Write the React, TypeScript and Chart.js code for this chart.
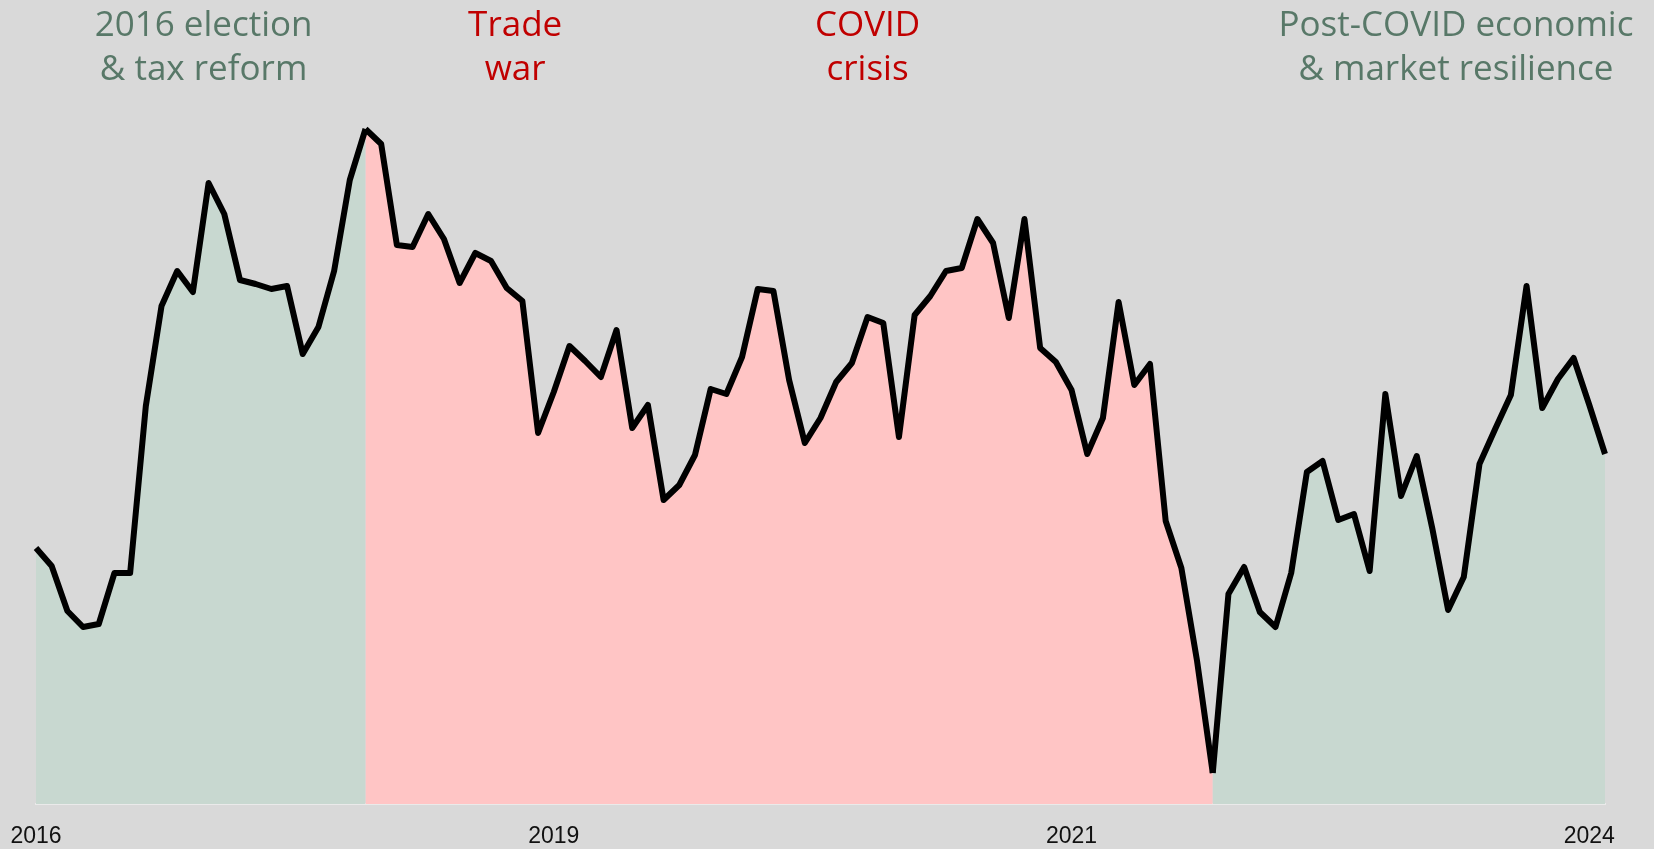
import React, { useEffect, useRef } from 'react';
import { Chart, registerables } from 'chart.js';

Chart.register(...registerables);

// Series values (index level, one per period)
const values: number[] = [
  256, 238, 193, 177, 180, 231, 231, 398, 498, 533,
  512, 621, 590, 524, 520, 515, 518, 450, 477, 533,
  624, 675, 660, 559, 557, 590, 565, 521, 551, 543,
  516, 503, 371, 412, 458, 443, 427, 474, 376, 399,
  304, 319, 349, 415, 410, 447, 515, 513, 424, 361,
  386, 422, 441, 487, 481, 367, 489, 508, 533, 536,
  585, 561, 486, 585, 456, 442, 414, 350, 386, 502,
  419, 440, 283, 236, 143, 31, 210, 237, 192, 177,
  231, 332, 343, 284, 290, 233, 410, 308, 348, 275,
  194, 227, 340, 375, 409, 518, 396, 425, 446, 399,
  350,
];

// Year tick labels and the periods they sit on
const tickIndexes: number[] = [0, 33, 66, 99];
const tickLabels: string[] = ['2016', '2019', '2021', '2024'];

// Phase boundaries (period index where the "down" phase starts / ends)
const downPhaseStart = 21;
const downPhaseEnd = 75;

// Phase annotations
const noteLines: string[][] = [
  ['2016 election', '& tax reform'],
  ['Trade', 'war'],
  ['COVID', 'crisis'],
  ['Post-COVID economic', '& market resilience'],
];
const noteKinds: string[] = ['up', 'down', 'down', 'up'];
const noteAnchors: number[] = [10.68, 30.54, 53.0, 90.5];

const categories: string[] = values.map((_, i) => {
  const k = tickIndexes.indexOf(i);
  return k >= 0 ? tickLabels[k] : '';
});

const BG = '#d9d9d9';
const FILL_UP = '#c8d8d0';
const FILL_DOWN = '#ffc5c5';
const TEXT_UP = '#587868';
const TEXT_DOWN = '#c00000';

const notesPlugin = {
  id: 'phaseNotes',
  afterDraw(chart: any) {
    const { ctx, scales } = chart;
    const x = scales.x;
    ctx.save();
    ctx.font = '35px "Open Sans"';
    ctx.textAlign = 'center';
    ctx.textBaseline = 'alphabetic';
    noteLines.forEach((lines, k) => {
      const cx = x.getPixelForValue(noteAnchors[k]);
      ctx.fillStyle = noteKinds[k] === 'up' ? TEXT_UP : TEXT_DOWN;
      lines.forEach((t, j) => ctx.fillText(t, cx, 35.5 + j * 44.5));
    });
    ctx.restore();
  },
};

export default function App() {
  const ref = useRef<HTMLCanvasElement | null>(null);

  useEffect(() => {
    if (!ref.current) return;
    const chart = new Chart(ref.current, {
      type: 'line',
      data: {
        labels: categories,
        datasets: [
          {
            data: values,
            borderColor: '#000000',
            borderWidth: 6,
            borderJoinStyle: 'round',
            borderCapStyle: 'butt',
            pointRadius: 0,
            pointHoverRadius: 0,
            pointBorderWidth: 0,
            tension: 0,
            fill: 'origin',
            backgroundColor: FILL_UP,
            segment: {
              backgroundColor: (c: any) =>
                c.p0DataIndex >= downPhaseStart && c.p0DataIndex < downPhaseEnd ? FILL_DOWN : FILL_UP,
            },
          } as any,
        ],
      },
      options: {
        animation: false,
        responsive: false,
        maintainAspectRatio: false,
        events: [],
        layout: { autoPadding: false, padding: { top: 110, left: 36, right: 49, bottom: 0 } },
        plugins: {
          legend: { display: false },
          tooltip: { enabled: false },
          title: { display: false },
        },
        scales: {
          x: {
            type: 'category',
            offset: false,
            grid: { display: false, drawTicks: false },
            border: { display: true, color: '#eaeaea', width: 2 },
            ticks: {
              autoSkip: false,
              maxRotation: 0,
              minRotation: 0,
              padding: 19.7,
              color: '#111111',
              font: { family: '"Liberation Sans", Arial, sans-serif', size: 23, lineHeight: 1.1 },
            },
            afterFit: (s: any) => {
              s.height = 45;
              s.paddingLeft = 0;
              s.paddingRight = 0;
            },
          },
          y: {
            display: false,
            min: 0,
            max: 694,
          },
        },
      },
      plugins: [notesPlugin],
    });
    return () => chart.destroy();
  }, []);

  return (
    <div style={{ position: 'fixed', left: 0, top: 0, width: 1654, height: 849, background: BG }}>
      <canvas ref={ref} width={1654} height={849} style={{ display: 'block', width: 1654, height: 849 }} />
    </div>
  );
}
